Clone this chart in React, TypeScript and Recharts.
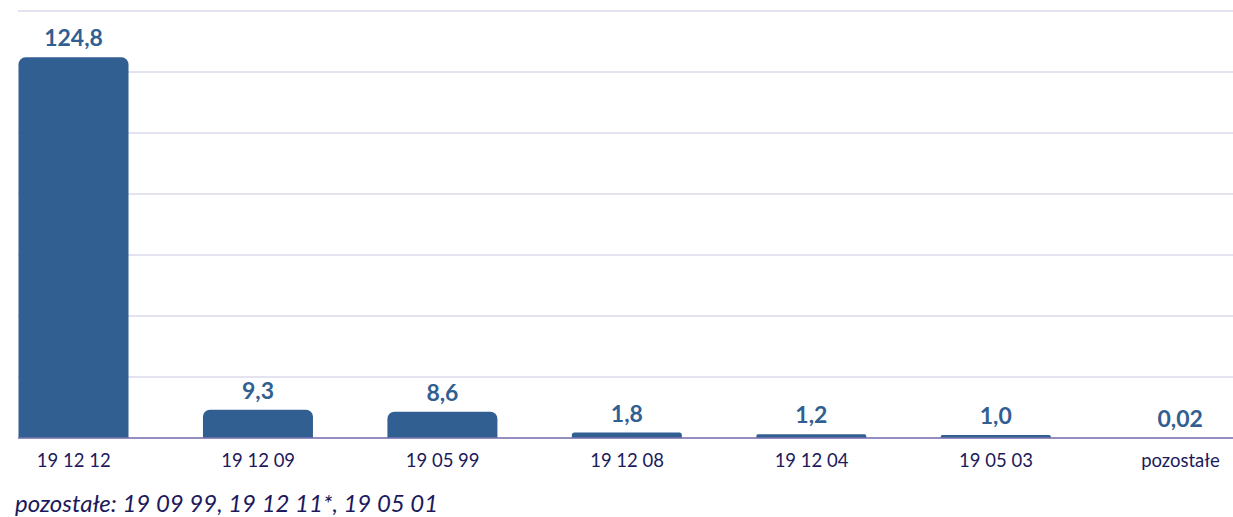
import { BarChart, Bar, XAxis, YAxis, CartesianGrid, LabelList } from 'recharts';

const CATEGORIES = ['19 12 12', '19 12 09', '19 05 99', '19 12 08', '19 12 04', '19 05 03', 'pozostałe'];
const AMOUNTS = [124.8, 9.3, 8.6, 1.8, 1.2, 1.0, 0.02];
const Y_TICKS = [0, 20, 40, 60, 80, 100, 120, 140];
const FOOTNOTE = 'pozostałe: 19 09 99, 19 12 11*, 19 05 01';

const data = CATEGORIES.map((name, i) => ({ name, value: AMOUNTS[i] }));

const BAR_COLOR = '#325f91';
const TEXT_DARK = '#1c1a5c';

const fmt = (v: number) =>
  v < 0.1 ? v.toFixed(2).replace('.', ',') : v.toFixed(1).replace('.', ',');

export default function App() {
  return (
    <div
      style={{
        position: 'absolute',
        left: 0,
        top: 0,
        width: 1233,
        height: 517,
        overflow: 'hidden',
        background: '#fff',
        fontFamily: 'Lato, "Open Sans", sans-serif',
      }}
    >
      <BarChart
        width={1233}
        height={480}
        data={data}
        margin={{ top: 11, right: 0, left: 18, bottom: 0 }}
        barSize={110}
      >
        <CartesianGrid vertical={false} stroke="#cac6e0" strokeWidth={1} />
        <XAxis
          dataKey="name"
          padding={{ left: -36.5, right: -39.7 }}
          axisLine={{ stroke: '#7a72ae', strokeWidth: 1.5 }}
          tickLine={false}
          tick={{ fill: TEXT_DARK, fontSize: 18.5 }}
          tickMargin={10}
          height={42}
          interval={0}
        />
        <YAxis hide domain={[0, 140]} ticks={Y_TICKS} />
        <Bar
          dataKey="value"
          fill={BAR_COLOR}
          radius={[7, 7, 0, 0]}
          isAnimationActive={false}
        >
          <LabelList
            dataKey="value"
            position="top"
            offset={11}
            formatter={(v: number) => fmt(v)}
            style={{ fill: BAR_COLOR, fontSize: 23, fontWeight: 700 }}
          />
        </Bar>
      </BarChart>
      <div
        style={{
          position: 'absolute',
          left: 15,
          top: 488,
          fontSize: 24,
          fontStyle: 'italic',
          color: TEXT_DARK,
          whiteSpace: 'nowrap',
        }}
      >
        {FOOTNOTE}
      </div>
    </div>
  );
}
